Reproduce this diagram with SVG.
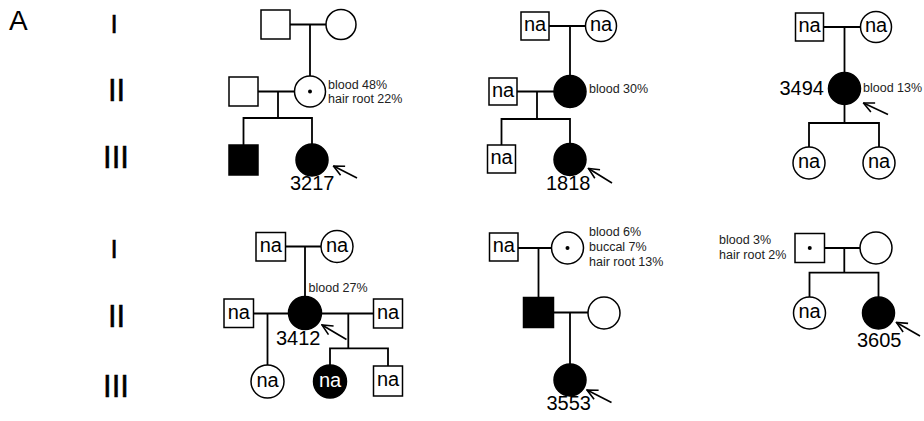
<svg xmlns="http://www.w3.org/2000/svg" width="924" height="421" viewBox="0 0 924 421">
<style>
.sq{fill:#fff;stroke:#000;stroke-width:1.5}
.ci{fill:#fff;stroke:#000;stroke-width:1.5}
.af{fill:#000;stroke:#000;stroke-width:1.5}
.dot{fill:#000}
.ln{stroke:#000;stroke-width:1.8;fill:none}
.ar{stroke:#000;stroke-width:1.6;fill:none;marker-end:url(#open)}
.na{font-family:"Liberation Sans",Arial,sans-serif;font-size:20px;text-anchor:middle;fill:#000}
.naw{font-family:"Liberation Sans",Arial,sans-serif;font-size:20px;text-anchor:middle;fill:#fff}
.id{font-family:"Liberation Sans",Arial,sans-serif;font-size:20px;fill:#000}
.lab{font-family:"Liberation Sans",Arial,sans-serif;font-size:12.5px;fill:#222}
.rn{font-family:"Liberation Sans",Arial,sans-serif;font-size:31px;text-anchor:middle;fill:#000;stroke:#000;stroke-width:0.5}
.big{font-family:"Liberation Sans",Arial,sans-serif;font-size:28px;fill:#000}
</style>
<defs>
<marker id="open" viewBox="0 0 13 13" refX="12" refY="6.5" markerWidth="13" markerHeight="13" markerUnits="userSpaceOnUse" orient="auto">
<path d="M1.5,1.5 L12,6.5 L1.5,11.5" fill="none" stroke="#000" stroke-width="1.6"/>
</marker>
</defs>
<rect width="924" height="421" fill="#fff"/>
<g id="panel-label"><text class="big" x="9" y="29.5">A</text></g>
<g id="generations">
<text class="rn" x="114" y="33" style="font-size:26px">I</text>
<text class="rn" x="116.5" y="101">II</text>
<text class="rn" x="116" y="168">III</text>
<text class="rn" x="114" y="258" style="font-size:26px">I</text>
<text class="rn" x="116.5" y="327">II</text>
<text class="rn" x="116" y="397">III</text>
</g>
<g id="connectors">
<path class="ln" d="M290,24.5H326M310,24.5V76M258,91.5H294.5M278,91.5V118M243.5,145V118H312V144"/>
<path class="ln" d="M549,26H585.5M570,26V75.5M517,91.5H554M537,91.5V119M501.5,145V119H570V143.5"/>
<path class="ln" d="M823.5,27H860.5M844.5,27V72.5M844.5,104.5V123M809,147V123H879V147"/>
<path class="ln" d="M285.5,246.5H321M305,246.5V296.5M253.5,313.5H288.5M267.5,313.5V365M321.5,313.5H373.5M348.3,313.5V348.3M330,365V348.3H388V366"/>
<path class="ln" d="M518,248H551.5M538.5,248V297.5M553.5,312.5H588M570,312.5V364"/>
<path class="ln" d="M824.5,248H860M844.3,248V272.7M809.5,297V272.7H878.5V297"/>
<line class="ar" x1="357" y1="178" x2="333.5" y2="166"/>
<line class="ar" x1="612" y1="183" x2="588.5" y2="168.5"/>
<line class="ar" x1="888" y1="114.5" x2="863.5" y2="103"/>
<line class="ar" x1="346.5" y1="339.5" x2="322" y2="325"/>
<line class="ar" x1="611.5" y1="402.5" x2="587" y2="390"/>
<line class="ar" x1="920" y1="336" x2="896.5" y2="322.5"/>
</g>
<g id="p1-I-1"><rect class="sq" x="261" y="10" width="29" height="29"/></g>
<g id="p1-I-2"><circle class="ci" cx="341" cy="24.5" r="15"/></g>
<g id="p1-II-1"><rect class="sq" x="229" y="77" width="29" height="29"/></g>
<g id="p1-II-2"><circle class="ci" cx="310" cy="91.5" r="15.5"/><circle class="dot" cx="310" cy="91.5" r="2"/>
<text class="lab" x="328" y="88.5">blood 48%</text><text class="lab" x="328" y="103">hair root 22%</text></g>
<g id="p1-III-1"><rect class="af" x="229" y="145" width="29" height="30"/></g>
<g id="p1-III-2"><circle class="af" cx="312" cy="160" r="16"/><text class="id" x="290" y="190">3217</text></g>
<g id="p2-I-1"><rect class="sq" x="521" y="12" width="28" height="28"/><text class="na" x="535" y="31">na</text></g>
<g id="p2-I-2"><circle class="ci" cx="601" cy="26" r="15.5"/><text class="na" x="601" y="31">na</text></g>
<g id="p2-II-1"><rect class="sq" x="489" y="78" width="28" height="27"/><text class="na" x="503" y="96.5">na</text></g>
<g id="p2-II-2"><circle class="af" cx="570" cy="91.5" r="16"/><text class="lab" x="589" y="93">blood 30%</text></g>
<g id="p2-III-1"><rect class="sq" x="487.5" y="145" width="28" height="28"/><text class="na" x="501.5" y="164">na</text></g>
<g id="p2-III-2"><circle class="af" cx="570" cy="159.5" r="16"/><text class="id" x="546" y="190">1818</text></g>
<g id="p3-I-1"><rect class="sq" x="795.5" y="13" width="28" height="28"/><text class="na" x="809.5" y="32">na</text></g>
<g id="p3-I-2"><circle class="ci" cx="876" cy="27" r="15.5"/><text class="na" x="876" y="32">na</text></g>
<g id="p3-II-1"><circle class="af" cx="844.5" cy="88.5" r="16"/><text class="id" x="824" y="95" text-anchor="end">3494</text><text class="lab" x="863" y="92">blood 13%</text></g>
<g id="p3-III-1"><circle class="ci" cx="809" cy="163" r="16"/><text class="na" x="809" y="168">na</text></g>
<g id="p3-III-2"><circle class="ci" cx="879" cy="163" r="16"/><text class="na" x="879" y="168">na</text></g>
<g id="p4-I-1"><rect class="sq" x="256" y="232.5" width="29.5" height="28.5"/><text class="na" x="270.75" y="252">na</text></g>
<g id="p4-I-2"><circle class="ci" cx="337" cy="246.5" r="16"/><text class="na" x="337" y="251.5">na</text></g>
<g id="p4-II-1"><rect class="sq" x="224" y="299" width="29.5" height="28.5"/><text class="na" x="238.75" y="318.5">na</text></g>
<g id="p4-II-2"><circle class="af" cx="305" cy="313" r="16.5"/><text class="lab" x="308.5" y="292">blood 27%</text><text class="id" x="276" y="345">3412</text></g>
<g id="p4-II-3"><rect class="sq" x="373.5" y="299" width="29" height="29"/><text class="na" x="388" y="318.5">na</text></g>
<g id="p4-III-1"><circle class="ci" cx="267.5" cy="381.5" r="16.5"/><text class="na" x="267.5" y="386.5">na</text></g>
<g id="p4-III-2"><circle class="af" cx="330" cy="381.5" r="16.5"/><text class="naw" x="330" y="386.5">na</text></g>
<g id="p4-III-3"><rect class="sq" x="373.5" y="366" width="29" height="30"/><text class="na" x="388" y="386">na</text></g>
<g id="p5-I-1"><rect class="sq" x="489.5" y="233" width="28.5" height="28"/><text class="na" x="503.75" y="252">na</text></g>
<g id="p5-I-2"><circle class="ci" cx="567.5" cy="248" r="16"/><circle class="dot" cx="567.5" cy="248" r="2"/>
<text class="lab" x="589" y="236">blood 6%</text><text class="lab" x="589" y="251">buccal 7%</text><text class="lab" x="589" y="266">hair root 13%</text></g>
<g id="p5-II-1"><rect class="af" x="523.5" y="297.5" width="30" height="30"/></g>
<g id="p5-II-2"><circle class="ci" cx="604" cy="313" r="16"/></g>
<g id="p5-III-1"><circle class="af" cx="570" cy="380" r="16"/><text class="id" x="546.5" y="410">3553</text></g>
<g id="p6-I-1"><rect class="sq" x="795" y="233.5" width="29.5" height="29"/><circle class="dot" cx="809.75" cy="248" r="2"/>
<text class="lab" x="719" y="243.5">blood 3%</text><text class="lab" x="719" y="258.5">hair root 2%</text></g>
<g id="p6-I-2"><circle class="ci" cx="876" cy="248" r="16"/></g>
<g id="p6-III-1"><circle class="ci" cx="809.5" cy="313" r="16"/><text class="na" x="809.5" y="318">na</text></g>
<g id="p6-III-2"><circle class="af" cx="878.5" cy="313" r="16"/><text class="id" x="857" y="346.5">3605</text></g>
</svg>
